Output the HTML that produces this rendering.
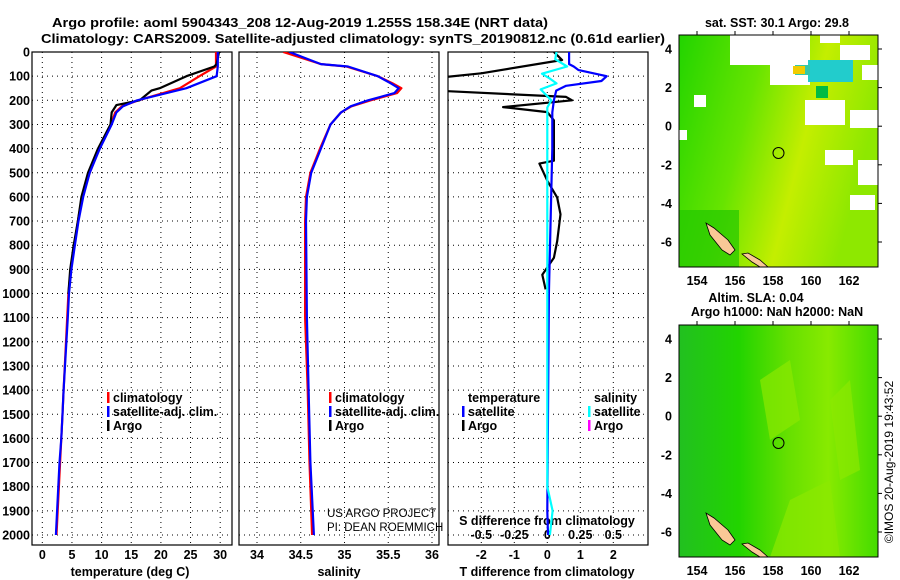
<!DOCTYPE html>
<html><head><meta charset="utf-8"><style>
body{margin:0;background:#fff}
svg{display:block;font-family:"Liberation Sans",sans-serif}
.b{font-weight:bold;font-size:13px}
.t{font-weight:bold;font-size:12.5px}
</style></head><body>
<svg id="s" width="900" height="580" viewBox="0 0 900 580">
<defs>
<clipPath id="c1"><rect x="32" y="52" width="200" height="493"/></clipPath>
<clipPath id="c2"><rect x="239" y="52" width="200" height="493"/></clipPath>
<clipPath id="c3"><rect x="448" y="52" width="200" height="493"/></clipPath>
<linearGradient id="sstg" x1="0" y1="0" x2="1" y2="0.3">
<stop offset="0" stop-color="#22d400"/><stop offset="0.4" stop-color="#66e400"/><stop offset="0.7" stop-color="#c4ee00"/><stop offset="1" stop-color="#8ee800"/></linearGradient>
<linearGradient id="slag" x1="0" y1="0" x2="1" y2="0">
<stop offset="0" stop-color="#22c020"/><stop offset="0.3" stop-color="#22d400"/><stop offset="0.55" stop-color="#66e000"/><stop offset="0.75" stop-color="#88ea00"/><stop offset="1" stop-color="#44dc00"/></linearGradient>
</defs>
<text class="b" x="300" y="27" text-anchor="middle" textLength="496" lengthAdjust="spacingAndGlyphs">Argo profile: aoml 5904343_208 12-Aug-2019 1.255S 158.34E (NRT data)</text>
<text class="b" x="353" y="43" text-anchor="middle" textLength="624" lengthAdjust="spacingAndGlyphs">Climatology: CARS2009. Satellite-adjusted climatology: synTS_20190812.nc (0.61d earlier)</text>
<g id="g"></g>
<!-- maps -->
<g>
<text class="t" x="777" y="27" text-anchor="middle">sat. SST: 30.1 Argo: 29.8</text>
<rect x="679" y="35" width="199" height="232" fill="url(#sstg)"/>
<rect x="730" y="35" width="70" height="30" fill="#fff"/><rect x="770" y="35" width="40" height="50" fill="#fff"/>
<rect x="820" y="35" width="20" height="8" fill="#fff"/><rect x="840" y="45" width="30" height="15" fill="#fff"/>
<rect x="805" y="100" width="40" height="25" fill="#fff"/><rect x="850" y="110" width="28" height="18" fill="#fff"/>
<rect x="825" y="150" width="28" height="15" fill="#fff"/><rect x="858" y="160" width="20" height="25" fill="#fff"/>
<rect x="850" y="195" width="25" height="15" fill="#fff"/><rect x="694" y="95" width="12" height="12" fill="#fff"/>
<rect x="679" y="130" width="8" height="10" fill="#fff"/><rect x="862" y="65" width="16" height="15" fill="#fff"/>
<rect x="808" y="60" width="45" height="22" fill="#22cccc"/><rect x="795" y="65" width="15" height="10" fill="#33c8aa"/>
<rect x="793" y="66" width="12" height="8" fill="#f0cc00"/><rect x="816" y="86" width="12" height="12" fill="#00bb44"/>
<rect x="679" y="210" width="60" height="57" fill="#22c800" opacity="0.7"/>
<polygon points="706,223 710,235 722,250 730,255 735,250 728,240 714,228" fill="#f9c896" stroke="#000" stroke-width="0.8"/>
<polygon points="742,254 752,262 760,267 768,267 760,260 748,253" fill="#f9c896" stroke="#000" stroke-width="0.8"/>
<circle cx="778.5" cy="153" r="5.5" fill="none" stroke="#000" stroke-width="1"/>
<rect x="679" y="35" width="199" height="232" fill="none" stroke="#000"/>
</g>
<g>
<text class="t" x="756" y="302" text-anchor="middle">Altim. SLA: 0.04</text>
<text class="t" x="777" y="316" text-anchor="middle">Argo h1000: NaN h2000: NaN</text>
<rect x="679" y="325" width="199" height="232" fill="url(#slag)"/>
<path d="M760,380 L790,360 L800,420 L770,440 Z M830,400 L850,380 L860,470 L840,480 Z M790,500 L830,480 L840,557 L770,557 Z" fill="#8ce800" opacity="0.7"/>
<polygon points="706,513 710,525 722,540 730,545 735,540 728,530 714,518" fill="#f9c896" stroke="#000" stroke-width="0.8"/>
<polygon points="742,544 752,552 760,557 768,557 760,550 748,543" fill="#f9c896" stroke="#000" stroke-width="0.8"/>
<circle cx="778.5" cy="443" r="5.5" fill="none" stroke="#000" stroke-width="1"/>
<rect x="679" y="325" width="199" height="232" fill="none" stroke="#000"/>
</g>
<text x="893" y="462" font-size="12" text-anchor="middle" transform="rotate(-90 893 462)">©IMOS 20-Aug-2019 19:43:52</text>
</svg>
<script>
const depthTicks=[0,100,200,300,400,500,600,700,800,900,1000,1100,1200,1300,1400,1500,1600,1700,1800,1900,2000];
const tempTicks=[0,5,10,15,20,25,30];
const salTicks=[34,34.5,35,35.5,36];
const salTickLabels=["34","34.5","35","35.5","36"];
const dTTicks=[-2,-1,0,1,2];
const dSTicks=[-0.5,-0.25,0,0.25,0.5];
const latTicks=[4,2,0,-2,-4,-6];
const lonTicks=[154,156,158,160,162];
const depthsT=[0,60,100,150,200,225,250,300,400,500,600,700,800,900,1000,1100,1400,1500,1600,1700,1800,1900,2000];
const tempClim=[29.3,29.3,26.5,23.2,16.2,13.4,12.3,11.6,9.6,8.0,6.7,6.0,5.4,4.8,4.4,4.2,3.6,3.4,3.2,3.0,2.8,2.6,2.4];
const tempSat=[29.6,29.6,29.4,24.3,16.0,13.6,12.5,11.7,9.7,8.0,6.9,6.1,5.5,4.9,4.5,4.3,3.6,3.4,3.2,2.9,2.7,2.5,2.3];
const depthsArgo=[0,50,60,100,150,160,200,220,250,300,400,500,600,700,800,900,1000];
const tempArgo=[29.8,29.4,29.0,24.3,19.8,18.4,16.4,12.5,11.7,11.5,9.4,7.7,6.6,6.0,5.3,4.7,4.4];
const depthsS=[0,50,60,100,130,150,170,200,225,250,300,400,500,600,700,1100,1400,1700,2000];
const salClim=[34.30,34.73,35.02,35.38,35.55,35.65,35.60,35.30,35.08,34.96,34.84,34.72,34.61,34.56,34.55,34.55,34.58,34.60,34.63];
const salSat=[34.37,34.73,35.04,35.38,35.53,35.62,35.57,35.27,35.07,34.96,34.84,34.73,34.62,34.57,34.56,34.57,34.59,34.61,34.65];
const depthsDT=[0,50,60,75,100,120,140,160,200,250,400,700,1000,1500,1900,2000];
const dTSat=[0.66,0.66,0.8,0.95,1.8,1.64,0.57,0.27,0.2,0.15,0.15,0.1,0.05,0.02,0.0,0.02];
const depthsDS=[0,30,60,90,110,130,155,200,230,1000,1800,1900,2000];
const dSSat=[0.07,0.06,0.15,-0.04,0.02,0.07,-0.05,0.03,0.0,0.0,0.0,0.04,0.02];
const depthsDA=[0,33,88,105,161,186,200,228,249,283,450,462,533,603,672,783,852,922,983];
const dTArgo=[0.2,0.45,-2.0,-3.2,-3.2,0.57,0.75,-1.34,0.0,0.2,0.2,-0.24,0.0,0.3,0.4,0.3,0.2,-0.15,-0.05];

const NS='http://www.w3.org/2000/svg';
const g=document.getElementById('g');
function el(tag,attrs,parent){const e=document.createElementNS(NS,tag);for(const k in attrs)e.setAttribute(k,attrs[k]);(parent||g).appendChild(e);return e;}
const yD=d=>52+d*0.2415;
const xT=t=>42.3+t*5.93;
const xS=s=>257+(s-34)*87.5;
const xDT=v=>547.3+v*33;
const xDS=v=>547.3+v*132;
const yLat=v=>49+(4-v)*19.3;
const xLon=v=>697+(v-154)*19;

const panels=[[32,'c1','temperature-panel'],[239,'c2','salinity-panel'],[448,'c3','difference-panel']];
panels.forEach(p=>{
  const r=el('rect',{x:p[0],y:52,width:200,height:493,fill:'none',stroke:'#000','stroke-width':1.2});
  
  
  depthTicks.forEach(d=>{
    const l=el('line',{x1:p[0],x2:p[0]+200,y1:yD(d),y2:yD(d),stroke:'#000','stroke-dasharray':'1,4','stroke-width':1});
    
    
  });
});
depthTicks.forEach(d=>{
  const t=el('text',{x:30,y:yD(d)+4.5,'text-anchor':'end',class:'t'});
  t.textContent=d;
  
  
});
function vgrid(xs,fx,labels,yl,cls){
  xs.forEach((v,i)=>{
    const l=el('line',{x1:fx(v),x2:fx(v),y1:52,y2:545,stroke:'#000','stroke-dasharray':'1,4'});
    
    
    if(labels){const t=el('text',{x:fx(v),y:yl,'text-anchor':'middle',class:cls||'t'});
      t.textContent=labels[i];
      
      }
  });
}
vgrid(tempTicks,xT,tempTicks.map(String),559);
vgrid(salTicks,xS,salTickLabels,559);
vgrid(dTTicks,xDT,dTTicks.map(String),559);
dSTicks.forEach(v=>{const t=el('text',{x:xDS(v),y:539,'text-anchor':'middle',class:'t'});
  t.textContent=String(v).replace('0.','0.').replace('-0.','-0.');
  
  });
function ax(txt,x,y,name){const t=el('text',{x:x,y:y,'text-anchor':'middle',class:'t'});t.textContent=txt;
  
  }
ax('temperature (deg C)',130,576,'temperature-axis-title');
ax('salinity',339,576,'salinity-axis-title');
ax('T difference from climatology',547,576,'t-diff-axis-title');
ax('S difference from climatology',547,525,'s-diff-axis-title');

function line(ds,vs,fx,color,clip,name,w){
  const pts=ds.map((d,i)=>fx(vs[i]).toFixed(1)+','+yD(d).toFixed(1)).join(' ');
  const p=el('polyline',{points:pts,fill:'none',stroke:color,'stroke-width':w||2.2,'clip-path':'url(#'+clip+')','stroke-linejoin':'round'});
  
  
}
line(depthsT,tempClim,xT,'#f00','c1','temp-climatology-line');
line(depthsArgo,tempArgo,xT,'#000','c1','temp-argo-line');
line(depthsT,tempSat,xT,'#00f','c1','temp-satellite-line');
line(depthsS,salClim,xS,'#f00','c2','salinity-climatology-line');
line(depthsS,salSat,xS,'#00f','c2','salinity-satellite-line');
line(depthsDA,dTArgo,xDT,'#000','c3','t-diff-argo-line');
line(depthsDT,dTSat,xDT,'#00f','c3','t-diff-satellite-line');
line(depthsDS,dSSat,xDS,'#0ff','c3','s-diff-satellite-line');

function legend(x,y,color,txt,name){
  if(color){const b=el('rect',{x:x-6,y:y-10,width:2.5,height:11,fill:color});
    
    }
  const t=el('text',{x:x,y:y,class:'t'});t.textContent=txt;
  
  
}
legend(113,402,'#f00','climatology','legend-temp-climatology');
legend(113,416,'#00f','satellite-adj. clim.','legend-temp-satellite');
legend(113,430,'#000','Argo','legend-temp-argo');
legend(335,402,'#f00','climatology','legend-sal-climatology');
legend(335,416,'#00f','satellite-adj. clim.','legend-sal-satellite');
legend(335,430,'#000','Argo','legend-sal-argo');
legend(468,402,null,'temperature','legend-temperature-heading');
legend(468,416,'#00f','satellite','legend-dt-satellite');
legend(468,430,'#000','Argo','legend-dt-argo');
legend(594,402,null,'salinity','legend-salinity-heading');
legend(594,416,'#0ff','satellite','legend-ds-satellite');
legend(594,430,'#f0f','Argo','legend-ds-argo');
[['US ARGO PROJECT',517],['PI: DEAN ROEMMICH',531]].forEach((a,i)=>{
  const t=el('text',{x:327,y:a[1],'font-size':11.5});t.textContent=a[0];
  
  });

[35,325].forEach((y0,mi)=>{
  latTicks.forEach(v=>{
    const y=yLat(v)+(mi?290:0);
    const t=el('text',{x:672,y:y+4.5,'text-anchor':'end',class:'t'});t.textContent=v;
    
    
    el('line',{x1:878,x2:882,y1:y,y2:y,stroke:'#000'});
  });
  lonTicks.forEach(v=>{
    const t=el('text',{x:xLon(v),y:y0+250,'text-anchor':'middle',class:'t'});t.textContent=v;
    
    
    el('line',{x1:xLon(v),x2:xLon(v),y1:y0-4,y2:y0,stroke:'#000'});
  });
});
</script>
</body></html>
